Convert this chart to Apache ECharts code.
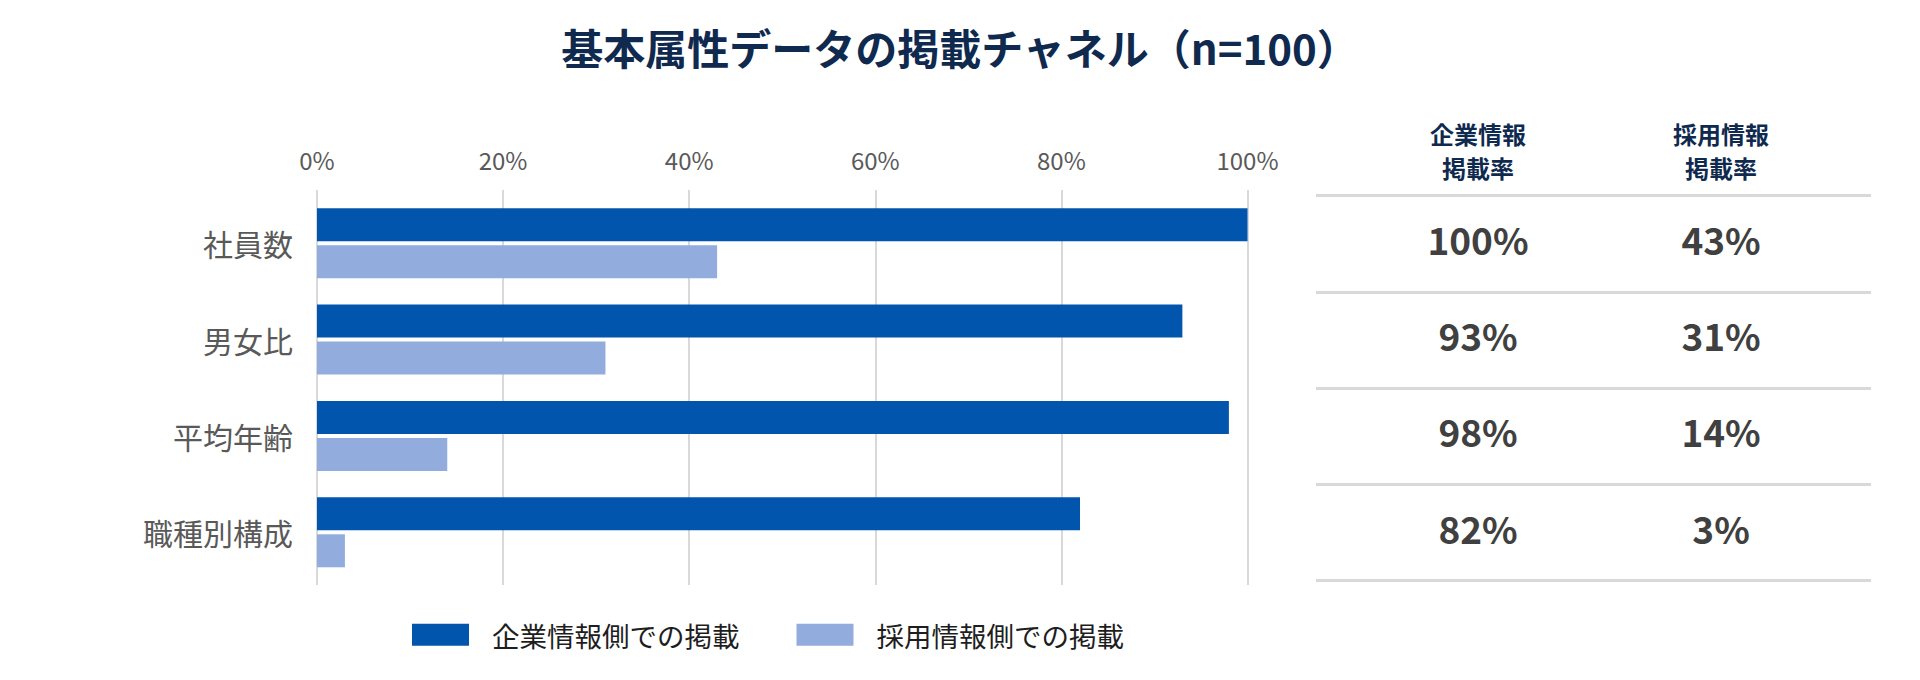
<!DOCTYPE html>
<html><head><meta charset="utf-8">
<script src="https://cdn.jsdelivr.net/npm/echarts@6/dist/echarts.min.js"></script>
<style>html,body{margin:0;padding:0;background:#fff}#c{width:1920px;height:680px}</style>
</head><body><div id="c"></div>
<script>
const titleText = '基本属性データの掲載チャネル（n=100）';
const categories = ['社員数', '男女比', '平均年齢', '職種別構成'];
const seriesNames = ['企業情報側での掲載', '採用情報側での掲載'];
const companyRate = [100, 93, 98, 82];
const recruitRate = [43, 31, 14, 3];
const xTicks = [0, 20, 40, 60, 80, 100];
const tableHeaders = ['企業情報\n掲載率', '採用情報\n掲載率'];

const FONT = '"Noto Sans CJK JP","Noto Sans",sans-serif';
const DARK = '#0255AD';
const LIGHT = '#91ACDD';

const chart = echarts.init(document.getElementById('c'), null, {renderer: 'svg'});

const tableData = [];
companyRate.forEach((v, i) => tableData.push([0, categories[i], v]));
recruitRate.forEach((v, i) => tableData.push([1, categories[i], v]));

chart.setOption({
  backgroundColor: '#fff',
  animation: false,
  textStyle: {fontFamily: FONT},
  title: {
    text: titleText, left: 'center', top: 20,
    textStyle: {fontFamily: FONT, fontSize: 42, fontWeight: 'bold', color: '#0F2A4E'}
  },
  legend: {
    data: seriesNames, left: 412, top: 621, padding: 0, itemWidth: 57, itemHeight: 22, itemGap: 57,
    icon: 'rect',
    textStyle: {fontFamily: FONT, fontSize: 27.5, color: '#1E1E1E', padding: [0, 0, 0, 18]}
  },
  graphic: tableHeaders.map((h, k) => ({
    type: 'text', x: [1478, 1721][k], y: 150,
    style: {text: h, align: 'center', verticalAlign: 'middle', font: 'bold 24px ' + FONT,
            fill: '#0F2A4E', lineHeight: 34}
  })),
  grid: [
    {left: 317, width: 930.5, top: 195, height: 385.5},
    {left: 317, width: 930.5, top: 190, height: 395},
    {left: 1316, width: 555, top: 195.5, height: 385.2}
  ],
  xAxis: [
    {gridIndex: 0, type: 'value', min: 0, max: 100, show: false},
    {gridIndex: 1, type: 'value', min: xTicks[0], max: xTicks[xTicks.length - 1], interval: 20,
     position: 'top', axisLine: {show: false}, axisTick: {show: false},
     axisLabel: {formatter: '{value}%', fontFamily: FONT, fontSize: 24, color: '#595959', margin: 19},
     splitLine: {show: true, lineStyle: {color: '#D9D9D9', width: 2}}},
    {gridIndex: 2, type: 'value', min: -0.6667, max: 1.617, show: false}
  ],
  yAxis: [
    {gridIndex: 0, type: 'category', data: categories, inverse: true,
     axisLine: {show: false}, axisTick: {show: false},
     axisLabel: {fontFamily: FONT, fontSize: 30, color: '#595959', margin: 24}},
    {gridIndex: 1, type: 'value', show: false},
    {gridIndex: 2, type: 'category', data: categories, inverse: true,
     axisLine: {show: false}, axisTick: {show: false}, axisLabel: {show: false},
     splitLine: {show: true, lineStyle: {color: '#D9D9D9', width: 3}}}
  ],
  series: [
    {name: seriesNames[0], type: 'bar', xAxisIndex: 0, yAxisIndex: 0, data: companyRate,
     barWidth: 33, barGap: '12%', itemStyle: {color: DARK}},
    {name: seriesNames[1], type: 'bar', xAxisIndex: 0, yAxisIndex: 0, data: recruitRate,
     barWidth: 33, barGap: '12%', itemStyle: {color: LIGHT}},
    {type: 'scatter', xAxisIndex: 2, yAxisIndex: 2, data: tableData, symbolSize: 1,
     itemStyle: {color: 'rgba(0,0,0,0)', opacity: 1}, silent: true,
     label: {show: true, position: 'inside', offset: [0, -5], formatter: p => p.value[2] + '%',
             fontFamily: FONT, fontSize: 37, fontWeight: 'bold', color: '#404040', opacity: 1}}
  ]
});
</script></body></html>
